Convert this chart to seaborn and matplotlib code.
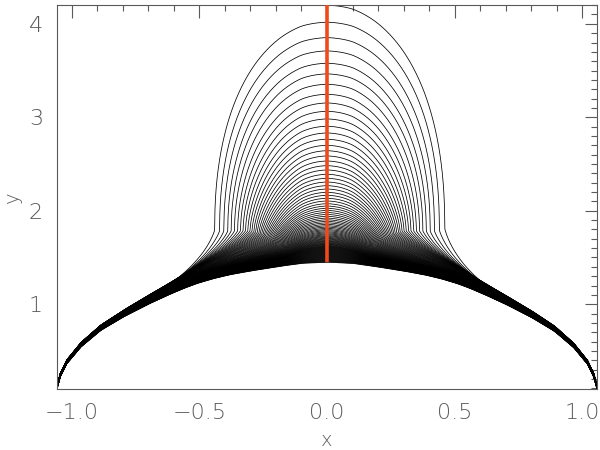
import numpy as np
import pandas as pd
import matplotlib
matplotlib.use("Agg")
import matplotlib.pyplot as plt
import seaborn as sns
from matplotlib.ticker import MultipleLocator

# ---- data ----
# apex heights of the loops (y at x = 0), top to bottom
apex_heights = [
    4.200, 4.018, 3.853, 3.711, 3.579, 3.465, 3.354, 3.247, 3.154, 3.065,
    2.983, 2.905, 2.833, 2.766, 2.701, 2.643, 2.587, 2.533, 2.483, 2.437,
    2.391, 2.348, 2.308, 2.269, 2.233, 2.198, 2.166, 2.134, 2.105, 2.076,
    2.051, 2.027, 2.004, 1.982, 1.961, 1.941, 1.922, 1.904, 1.887, 1.871,
    1.855, 1.840, 1.826, 1.812, 1.799, 1.787, 1.775, 1.764, 1.753, 1.743,
    1.733, 1.724, 1.715, 1.706, 1.698, 1.690, 1.682, 1.675, 1.668, 1.661,
    1.654, 1.648, 1.642, 1.636, 1.630, 1.624, 1.619, 1.614, 1.609, 1.604,
    1.599, 1.594, 1.589, 1.584, 1.579, 1.574, 1.569, 1.564, 1.559, 1.554,
    1.549, 1.544, 1.539, 1.534, 1.529, 1.524, 1.519, 1.514, 1.509, 1.504,
    1.499, 1.494, 1.489, 1.484, 1.479, 1.474, 1.469, 1.464, 1.459, 1.454,
    1.450,
]
# lowest loop (half profile, |x| -> y)
base_x = [0.0, 0.10, 0.185, 0.30, 0.381, 0.45, 0.511, 0.56, 0.616, 0.70,
          0.80, 0.889, 0.965, 1.02, 1.045, 1.0575]
base_y = [1.450, 1.437, 1.405, 1.355, 1.315, 1.270, 1.220, 1.170, 1.105, 1.000,
          0.860, 0.715, 0.540, 0.360, 0.220, 0.093]
# outermost loop: half-width of its cap and of its flaring legs
outer_cap_halfwidth = 0.44
outer_leg_scale = 0.09

x_label = "x"
y_label = "y"
x_ticks = [-1.0, -0.5, 0.0, 0.5, 1.0]
y_ticks = [1, 2, 3, 4]

# ---- build curves ----
xfoot = base_x[-1]
xs = np.linspace(-xfoot, xfoot, 4001)
B = np.interp(np.abs(xs), base_x, base_y)
ker = np.ones(41) / 41
Bs = np.convolve(np.pad(B, 20, mode="edge"), ker, mode="valid")
edge = np.abs(xs) > 0.95
Bs[edge] = B[edge]
B = Bs

B0 = base_y[0]
Dmax = max(apex_heights) - B0
ax_ = np.abs(xs)
rows = []
for i, h in enumerate(apex_heights):
    D = h - B0
    t = D / Dmax
    w = 0.14 + (outer_cap_halfwidth - 0.14) * t / 0.934
    L = outer_leg_scale + 0.35 * (1 - t) ** 1.2
    f = 0.2 + 0.45 * (1 - t) ** 2
    e = 0.435 + 0.8 * (1 - t) ** 2
    u = ax_ / w
    cap = np.where(u < 1, np.clip(1 - u ** 2.3, 0, None) ** e, 0.0)
    d = np.clip(ax_ - w, 0, None)
    E = np.exp(-(d / L) ** 0.85)
    y = B + D * ((1 - f) * cap + f * E)
    mask = np.ones_like(xs, dtype=bool)
    if i == 0:
        mask = xs >= 0
    rows.append(pd.DataFrame({"x": xs[mask], "y": y[mask], "curve": i}))
df = pd.concat(rows, ignore_index=True)

# ---- plot ----
sns.set_style("white")
plt.rcParams["font.family"] = ["DejaVu Sans"]
fig = plt.figure(figsize=(6, 4.5), dpi=100)
ax = fig.add_axes([0.095, 0.1356, 0.90, 0.853])
sns.lineplot(data=df, x="x", y="y", units="curve", estimator=None, sort=False,
             color="black", linewidth=0.55, ax=ax, legend=False)
ax.vlines(0.0, min(apex_heights), max(apex_heights), color="#f04a1a", linewidth=2.6, zorder=5)

ax.set_xlim(-xfoot, xfoot)
ax.set_ylim(0.093, 4.2)
ax.set_xticks(x_ticks)
ax.set_xticklabels([f"{v:.1f}".replace("-", "\u2212") for v in x_ticks])
ax.set_yticks(y_ticks)
ax.set_yticklabels([str(v) for v in y_ticks])
ax.xaxis.set_minor_locator(MultipleLocator(0.1))
ax.yaxis.set_minor_locator(MultipleLocator(0.1))
gray = "#5a5a5a"
ax.tick_params(which="both", direction="in", top=True, right=True, color=gray,
               labelcolor=gray, labelsize=16, width=0.8)
ax.tick_params(which="major", length=9, pad=10)
ax.tick_params(which="minor", length=4.5)
for lab in ax.get_xticklabels() + ax.get_yticklabels():
    lab.set_fontweight("light")
for s in ax.spines.values():
    s.set_color(gray)
    s.set_linewidth(0.8)
ax.set_xlabel(x_label, color=gray, fontsize=14, fontweight="light", labelpad=6)
ax.set_ylabel(y_label, color=gray, fontsize=14, fontweight="light", labelpad=5)
fig.savefig("out.png", dpi=100)
